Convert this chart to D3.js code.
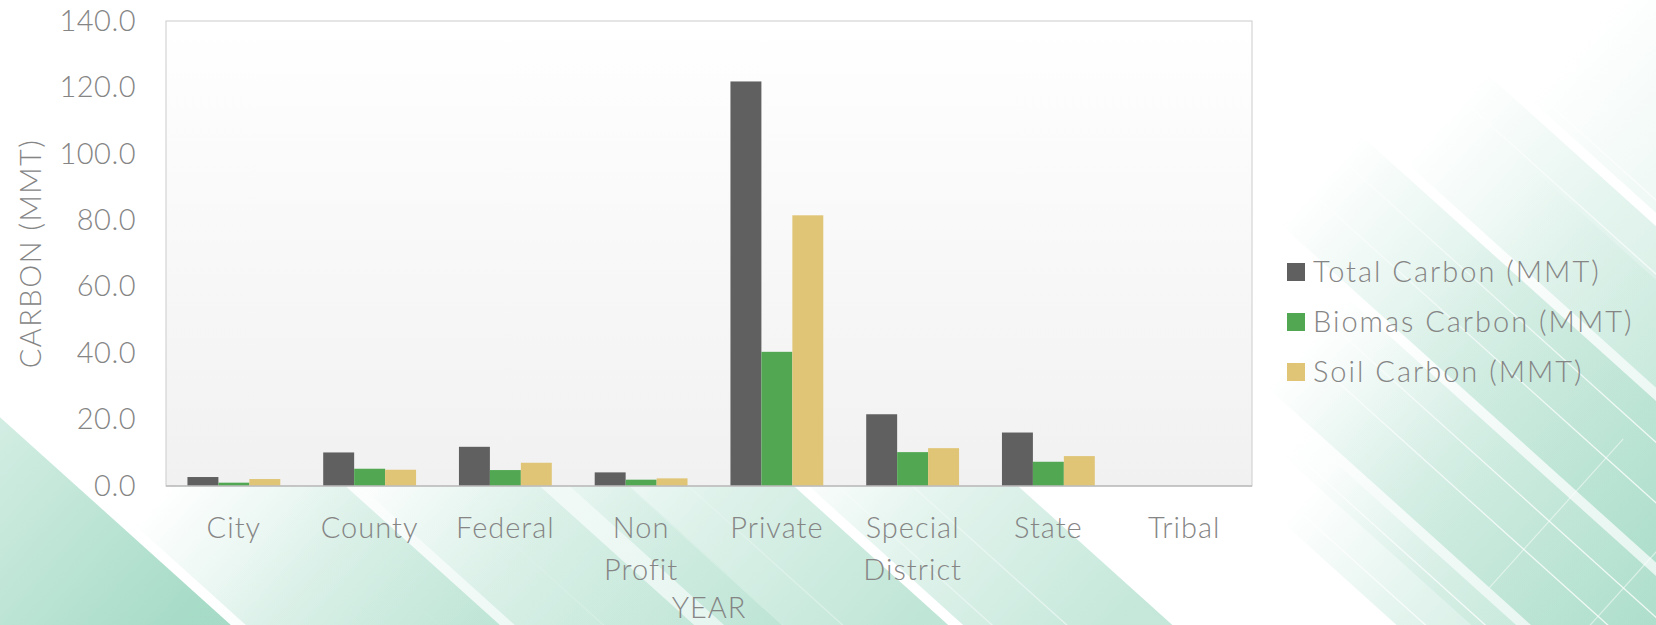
<!DOCTYPE html>
<html>
<head>
<meta charset="utf-8">
<script src="https://cdn.jsdelivr.net/npm/d3@7"></script>
<style>
  html, body { margin: 0; padding: 0; background: #fff; overflow: hidden; }
  text { font-family: Lato, "Open Sans", sans-serif; font-weight: 300; }
</style>
</head>
<body>
<div id="chart"></div>
<script>
"use strict";

/* ── Data ── */
const categories = ["City", "County", "Federal", "Non Profit", "Private", "Special District", "State", "Tribal"];
const seriesNames = ["Total Carbon (MMT)", "Biomas Carbon (MMT)", "Soil Carbon (MMT)"];
const totalCarbon   = [2.7, 10.1, 11.8, 4.1, 121.8, 21.6, 16.1, 0.0];
const biomasCarbon  = [1.0,  5.2,  4.8, 1.9,  40.4, 10.2,  7.3, 0.0];
const soilCarbon    = [2.1,  4.9,  7.0, 2.3,  81.5, 11.4,  9.0, 0.0];
const yTicks = [0, 20, 40, 60, 80, 100, 120, 140];

const seriesColors = ["#606060", "#52a852", "#e0c577"];

/* ── Layout ── */
const W = 1656, H = 625;
const plot = { left: 166, top: 21, right: 1252, bottom: 486 };
const textColor = "#858585";

const svg = d3.select("#chart").append("svg")
  .attr("width", W).attr("height", H);

const defs = svg.append("defs");

/* ── Background: diagonal green streaks ── */
svg.append("rect").attr("width", W).attr("height", H).attr("fill", "#ffffff");

// gradient ramps along the streak from u0 (clear) to u1 (full), then holds
function bandGrad(id, u0, u1, alpha) {
  const g = defs.append("linearGradient").attr("id", id)
    .attr("gradientUnits", "userSpaceOnUse")
    .attr("x1", u0).attr("x2", u1).attr("y1", 0).attr("y2", 0);
  g.append("stop").attr("offset", "0%").attr("stop-color", "#8ad0b5").attr("stop-opacity", 0);
  g.append("stop").attr("offset", "40%").attr("stop-color", "#8ad0b5").attr("stop-opacity", alpha * 0.5);
  g.append("stop").attr("offset", "100%").attr("stop-color", "#8ad0b5").attr("stop-opacity", alpha);
}

// [v0, v1, u0, u1, alpha] in a frame rotated 42deg
const bands = [
  [-1150, -950, 1200, 1650, 0.30],
  [-940,  -820, 1150, 1600, 0.45],
  [-810,  -690, 1100, 1600, 0.60],
  [-680,  -560, 1200, 1650, 0.60],
  [-550,  -470, 1300, 1700, 0.50],
  [-320,  -180,  900, 1250, 0.50],
  [-170,   -20,  700, 1100, 0.55],
  [0,      120,  600, 1000, 0.45],
  [130,    300,  450,  850, 0.55],
  [310,    560,  100,  550, 0.75],
  [-900,  -520, 1250, 1700, 0.25],
  [-60,    380,  550, 1050, 0.25]
];

const bg = svg.append("g").attr("transform", "rotate(42)");
const bandLayer = bg.append("g");
bands.forEach((b, i) => {
  bandGrad("band" + i, b[2], b[3], b[4]);
  bandLayer.append("rect")
    .attr("x", b[2]).attr("y", b[0])
    .attr("width", 2400 - b[2]).attr("height", b[1] - b[0])
    .attr("fill", `url(#band${i})`);
});

// thin light streak lines
const lineGrad = defs.append("linearGradient").attr("id", "lineGrad")
  .attr("gradientUnits", "userSpaceOnUse")
  .attr("x1", 700).attr("x2", 1500).attr("y1", 0).attr("y2", 0);
lineGrad.append("stop").attr("offset", "0%").attr("stop-color", "#fff").attr("stop-opacity", 0);
lineGrad.append("stop").attr("offset", "100%").attr("stop-color", "#fff").attr("stop-opacity", 0.8);

const streaks = [-960, -905, -780, -735, -650, -612, -530, -490, -250, -200, -100, -60, 60, 170, 220, 260, 390, 450, 510];
const lineLayer = bg.append("g");
streaks.forEach((v, i) => {
  lineLayer.append("rect")
    .attr("x", 500 + (i % 3) * 100).attr("width", 1900)
    .attr("y", v).attr("height", 1.3)
    .attr("fill", "url(#lineGrad)");
});
// cross lines
const cross = [[1500, -760, -560], [1600, -700, -480], [1660, -520, -360], [1200, -160, 40], [1260, -120, 20], [800, 150, 320], [620, 380, 520]];
cross.forEach(c => {
  lineLayer.append("line")
    .attr("x1", c[0]).attr("x2", c[0]).attr("y1", c[1]).attr("y2", c[2])
    .attr("stroke", "#ffffff").attr("stroke-opacity", 0.5).attr("stroke-width", 1.2);
});

/* ── Plot area ── */
const pgrad = defs.append("linearGradient").attr("id", "plotGrad")
  .attr("x1", "0").attr("x2", "0").attr("y1", "0").attr("y2", "1");
pgrad.append("stop").attr("offset", "0%").attr("stop-color", "#ffffff");
pgrad.append("stop").attr("offset", "100%").attr("stop-color", "#f1f1f1");

svg.append("rect")
  .attr("x", plot.left).attr("y", plot.top)
  .attr("width", plot.right - plot.left).attr("height", plot.bottom - plot.top)
  .attr("fill", "url(#plotGrad)")
  .attr("stroke", "#cccccc").attr("stroke-width", 1);

/* ── Scales ── */
const x0 = d3.scaleBand().domain(categories)
  .range([plot.left, plot.right]).paddingInner(0.316).paddingOuter(0.158);
const x1 = d3.scaleBand().domain(d3.range(3)).range([0, x0.bandwidth()]);
const y = d3.scaleLinear().domain([0, 140]).range([plot.bottom, plot.top]);

const seriesValues = [totalCarbon, biomasCarbon, soilCarbon];
const cells = [];
categories.forEach((c, i) => {
  seriesValues.forEach((vals, s) => cells.push({ cat: c, s, value: vals[i] }));
});

/* ── Bars ── */
svg.append("g").selectAll("rect")
  .data(cells.filter(d => d.value > 0))
  .join("rect")
  .attr("x", d => x0(d.cat) + x1(d.s))
  .attr("y", d => y(d.value))
  .attr("width", x1.bandwidth())
  .attr("height", d => y(0) - y(d.value))
  .attr("fill", d => seriesColors[d.s]);

// baseline
svg.append("line")
  .attr("x1", plot.left).attr("x2", plot.right)
  .attr("y1", plot.bottom).attr("y2", plot.bottom)
  .attr("stroke", "#bdbdbd").attr("stroke-width", 1.5);

/* ── Y axis ── */
svg.append("g")
  .attr("transform", `translate(${plot.left},0)`)
  .call(d3.axisLeft(y).tickValues(yTicks).tickFormat(d3.format(".1f")).tickSize(0).tickPadding(30))
  .call(g => {
    g.select(".domain").remove();
    g.selectAll(".tick text")
      .attr("fill", textColor)
      .attr("font-size", "29px")
      .attr("font-family", "Lato, sans-serif")
      .attr("letter-spacing", "0.5px");
  });

/* ── X axis (wrapped labels) ── */
const xAxis = svg.append("g")
  .attr("transform", `translate(0,${plot.bottom})`)
  .call(d3.axisBottom(x0).tickSize(0))
  .call(g => g.select(".domain").remove());

xAxis.selectAll(".tick text").each(function (d) {
  const t = d3.select(this);
  const words = d.split(" ");
  t.text(null).attr("y", 52).attr("dy", null)
    .attr("fill", textColor)
    .attr("font-size", "29px")
    .attr("font-family", "Lato, sans-serif")
    .attr("letter-spacing", "1px");
  words.forEach((w, i) => {
    t.append("tspan").attr("x", 0).attr("y", 52 + i * 42).text(w);
  });
});

/* ── Axis titles ── */
svg.append("text")
  .attr("x", (plot.left + plot.right) / 2).attr("y", 618)
  .attr("text-anchor", "middle")
  .attr("fill", textColor).attr("font-size", "29px").attr("letter-spacing", "1px")
  .text("YEAR");

svg.append("text")
  .attr("transform", `translate(41,${(plot.top + plot.bottom) / 2}) rotate(-90)`)
  .attr("text-anchor", "middle")
  .attr("fill", textColor).attr("font-size", "29px").attr("letter-spacing", "1.5px")
  .text("CARBON (MMT)");

/* ── Legend ── */
const legend = svg.append("g").attr("transform", "translate(1287,272)");
seriesNames.forEach((name, i) => {
  const row = legend.append("g").attr("transform", `translate(0,${i * 50})`);
  row.append("rect")
    .attr("x", 0).attr("y", -9).attr("width", 18).attr("height", 18)
    .attr("fill", seriesColors[i]);
  row.append("text")
    .attr("x", 26).attr("y", 0).attr("dy", "0.36em")
    .attr("fill", textColor).attr("font-size", "29px").attr("letter-spacing", "2px")
    .text(name);
});
</script>
</body>
</html>
